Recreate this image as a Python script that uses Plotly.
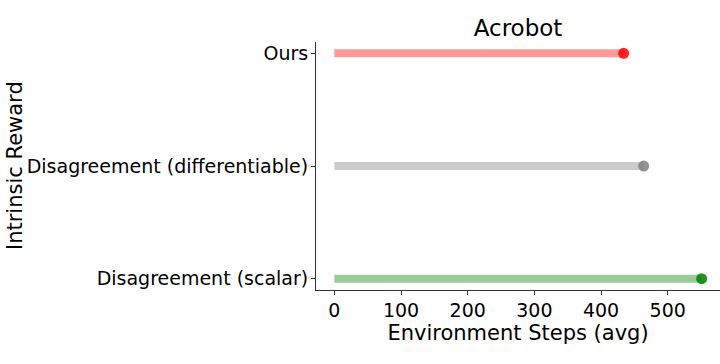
import plotly.graph_objects as go

categories = ["Disagreement (scalar)", "Disagreement (differentiable)", "Ours"]
steps = [551, 464, 434]
line_colors = ["rgba(0,128,0,0.4)", "rgba(128,128,128,0.4)", "rgba(255,0,0,0.4)"]
dot_colors = ["rgba(0,128,0,0.85)", "rgba(128,128,128,0.85)", "rgba(255,0,0,0.85)"]
x_ticks = [0, 100, 200, 300, 400, 500]

fig = go.Figure()
for cat, v, lc in zip(categories, steps, line_colors):
    fig.add_trace(go.Scatter(x=[0, v], y=[cat, cat], mode="lines",
                             line=dict(color=lc, width=8), hoverinfo="skip",
                             showlegend=False))
for cat, v, dc in zip(categories, steps, dot_colors):
    fig.add_trace(go.Scatter(x=[v], y=[cat], mode="markers",
                             marker=dict(color=dc, size=11, line=dict(width=0)),
                             showlegend=False, cliponaxis=False))

font = "DejaVu Sans"
W, H = 720, 364
L, R, T, B = 316, 0, 42, 74
fig.update_layout(
    width=W, height=H,
    margin=dict(l=L, r=R, t=T, b=B),
    plot_bgcolor="white", paper_bgcolor="white",
    font=dict(family=font, size=19, color="black"),
    title=dict(text="Acrobot", x=0.5, xref="paper", xanchor="center",
               y=1, yref="container", yanchor="top", pad=dict(t=20),
               font=dict(size=23, family=font, color="black")),
    xaxis=dict(range=[-27.5, 578.5], tickvals=x_ticks, ticks="outside",
               ticklen=4, tickcolor="#333", showline=True, linecolor="#333",
               linewidth=1, showgrid=False, zeroline=False,
               tickfont=dict(size=19), ticklabelstandoff=-1,
               title=dict(text="Environment Steps (avg)", font=dict(size=21), standoff=0)),
    yaxis=dict(type="category", categoryorder="array", categoryarray=categories,
               range=[-0.1, 2.1], ticks="outside", ticklen=4, tickcolor="#333",
               showline=True, linecolor="#333", linewidth=1, showgrid=False,
               zeroline=False, tickfont=dict(size=19), ticklabelstandoff=-1),
)
fig.update_yaxes(automargin=False)
fig.update_xaxes(automargin=False)
plot_w = W - L - R
fig.add_annotation(text="Intrinsic Reward", xref="paper", yref="paper",
                   x=(15 - L) / plot_w, y=0.5, textangle=-90, showarrow=False,
                   xanchor="center", yanchor="middle", font=dict(size=21))

fig.write_html("out.html", config={"displayModeBar": False},
               post_script="document.body.style.margin='0';")
